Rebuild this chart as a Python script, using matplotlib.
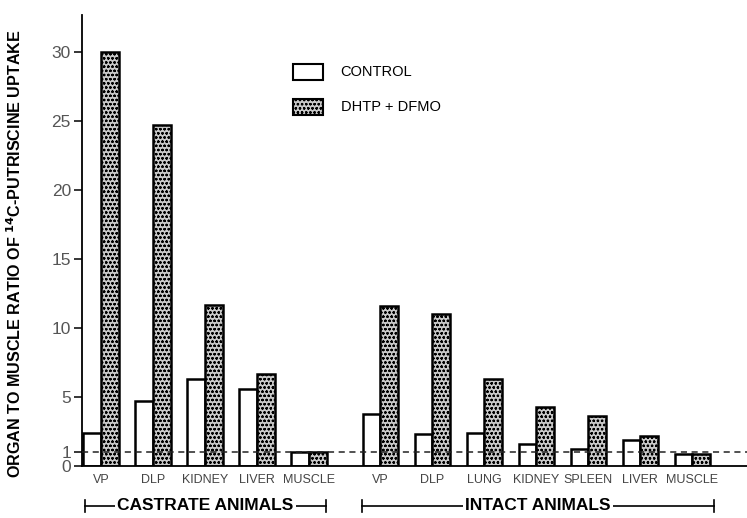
import matplotlib
matplotlib.use("Agg")
import matplotlib.pyplot as plt
import matplotlib.transforms as mtransforms
from matplotlib.patches import Rectangle
import numpy as np

# castrate animals
castrate_tissues = ["VP", "DLP", "KIDNEY", "LIVER", "MUSCLE"]
castrate_control = [2.4, 4.7, 6.3, 5.6, 1.0]
castrate_treated = [30.0, 24.7, 11.7, 6.7, 1.0]

# intact animals
intact_tissues = ["VP", "DLP", "LUNG", "KIDNEY", "SPLEEN", "LIVER", "MUSCLE"]
intact_control = [3.8, 2.3, 2.4, 1.6, 1.2, 1.9, 0.9]
intact_treated = [11.6, 11.0, 6.3, 4.3, 3.6, 2.2, 0.85]

y_ticks = [0, 1, 5, 10, 15, 20, 25, 30]
reference_ratio = 1.0

plt.rcParams["font.family"] = ["Liberation Sans", "DejaVu Sans"]
plt.rcParams["hatch.color"] = "#333333"
plt.rcParams["hatch.linewidth"] = 0.6

fig = plt.figure(figsize=(7.47, 5.18), dpi=100)
ax = fig.add_axes([0.1098, 0.1004, 0.8902, 0.8707])

bar_w = 0.34
gap = 1.37
xc = np.arange(len(castrate_tissues), dtype=float)
xi = np.arange(len(intact_tissues)) + xc[-1] + gap

def draw_group(x, ctrl, trt):
    ax.bar(x - bar_w / 2, ctrl, bar_w, color="white", edgecolor="black",
           linewidth=1.8, zorder=2)
    ax.bar(x + bar_w / 2, trt, bar_w, color="#c8c8c8", edgecolor="black",
           linewidth=1.8, hatch="oooo", zorder=2)

draw_group(xc, castrate_control, castrate_treated)
draw_group(xi, intact_control, intact_treated)

ax.axhline(reference_ratio, color="#222222", linestyle=(0, (4, 3)),
           linewidth=1.1, zorder=3)

ax.set_xlim(-0.365, 12.42)
ax.set_ylim(0, 32.7)
ax.set_yticks(y_ticks)
ax.set_yticklabels([str(t) for t in y_ticks], fontsize=12.5, color="#555555")
ax.tick_params(axis="y", direction="out", length=6, width=1.1, pad=2)

ax.set_xticks(np.concatenate([xc, xi]))
ax.set_xticklabels(castrate_tissues + intact_tissues, fontsize=9,
                   color="#444444")
ax.tick_params(axis="x", length=0, pad=6)

for s in ["top", "right"]:
    ax.spines[s].set_visible(False)
ax.spines["left"].set_linewidth(1.3)
ax.spines["bottom"].set_linewidth(1.3)

ax.set_ylabel(r"ORGAN TO MUSCLE RATIO OF $^{\mathbf{14}}$C-PUTRISCINE UPTAKE",
              fontsize=11.6, fontweight="bold")
ax.yaxis.set_label_coords(-0.088, 0.47)

# group brackets
trans = mtransforms.blended_transform_factory(ax.transData, ax.transAxes)
def bracket(x0, x1, label, yb=-0.088):
    ax.plot([x0, x1], [yb, yb], color="black", lw=1.2, transform=trans,
            clip_on=False)
    for xx in (x0, x1):
        ax.plot([xx, xx], [yb - 0.013, yb + 0.013], color="black", lw=1.2,
                transform=trans, clip_on=False)
    ax.text((x0 + x1) / 2, yb, label, transform=trans, ha="center",
            va="center", fontsize=12.5, fontweight="bold",
            bbox=dict(facecolor="white", edgecolor="none", pad=1.5))

bracket(xc[0] - 0.31, xc[-1] + 0.33, "CASTRATE ANIMALS")
bracket(xi[0] - 0.35, xi[-1] + 0.42, "INTACT ANIMALS")

# legend drawn as boxes
lx, ly = 0.317, 0.855
ax.add_patch(Rectangle((lx, ly), 0.045, 0.036, transform=ax.transAxes,
                       facecolor="white", edgecolor="black", lw=1.5))
ax.add_patch(Rectangle((lx, ly - 0.077), 0.045, 0.036, transform=ax.transAxes,
                       facecolor="#c8c8c8", edgecolor="black", lw=1.5,
                       hatch="oooo"))
ax.text(lx + 0.072, ly + 0.018, "CONTROL", transform=ax.transAxes,
        va="center", fontsize=10.5)
ax.text(lx + 0.072, ly - 0.059, "DHTP + DFMO", transform=ax.transAxes,
        va="center", fontsize=10.5)

fig.savefig("out.png", dpi=100)
